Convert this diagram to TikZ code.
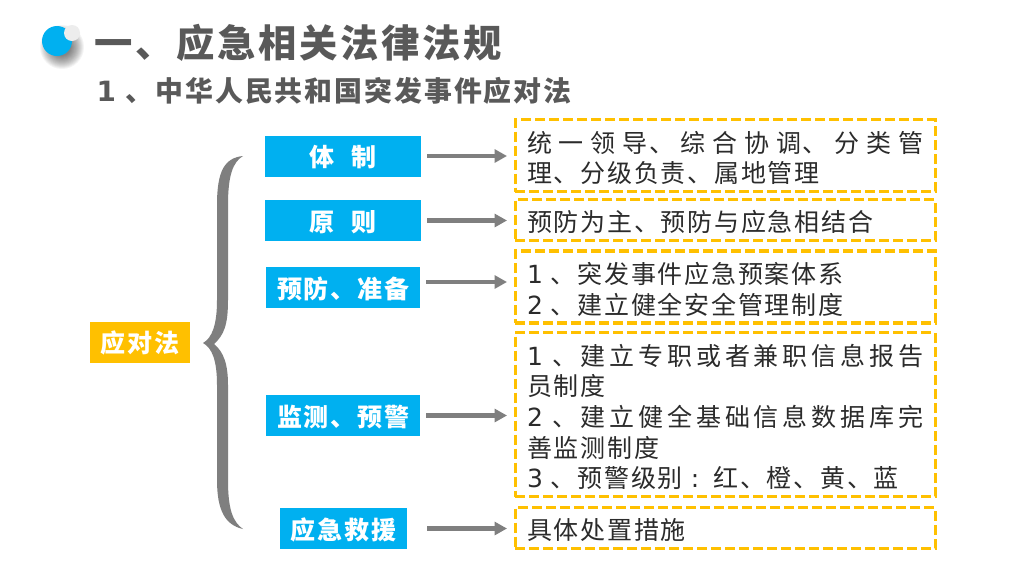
\documentclass[tikz,border=0pt]{standalone}
\usepackage{fontspec}
\setmainfont[LetterSpace=7]{Noto Sans CJK SC}
\newfontfamily\numfont{DejaVu Sans}
\usetikzlibrary{arrows.meta}
\definecolor{skyblue}{HTML}{00B0F0}
\definecolor{amber}{HTML}{FFC000}
\definecolor{arrowgray}{HTML}{7F7F7F}
\definecolor{titlegray}{HTML}{595959}
\definecolor{bodygray}{HTML}{2B2B2B}
\XeTeXlinebreaklocale "zh"
\XeTeXlinebreakskip=1.75pt plus 8pt
\tolerance=9999
\tikzset{
	labelbox/.style={fill=skyblue, text=white, inner sep=0pt, minimum height=41pt,%
		text height=22pt, text depth=1pt, font=\fontsize{25}{30}\selectfont\bfseries},
	rootbox/.style={labelbox, fill=amber, minimum width=100pt},
	notebox/.style={draw=amber, line width=3.2pt, dash pattern=on 10pt off 4pt, anchor=west,%
		inner xsep=12pt, inner ysep=0pt, text width=396pt, align=justify, text=bodygray,%
		font=\fontsize{25}{30.6}\selectfont, execute at begin node={\rule{0pt}{26pt}}},
	pointer/.style={draw=arrowgray, line width=4.5pt, shorten <=6pt, shorten >=6.5pt,%
		-{Triangle[length=12.5pt, width=13pt]}}
}

\begin{document}
\begin{tikzpicture} [x=1pt, y=-1pt]

		\useasboundingbox [fill=white] (0,0) rectangle (1024,576);

		% soft shadow under the bullet
		\foreach \r in {22,21,...,9}
			\fill [black, opacity=.045] (62,47) circle (\r pt);

		\fill [skyblue] (57,41) circle (15pt);

		\fill [black!7] (72,33) circle (8pt);

		\node [anchor=west, text=titlegray, font=\fontsize{38.3}{40}\selectfont\bfseries] (title) at (91,43)%
		{一、应急相关法律法规};

		\node [anchor=west, text=titlegray, font=\fontsize{27.9}{30}\selectfont\bfseries] (subtitle) at (93,91)%
		{{\numfont 1 }、中华人民共和国突发事件应对法};

		\node [rootbox] (root) at (140,342) {应对法};

		% the big brace
		\fill [arrowgray] (243,156) .. controls (225,158) and (217,170) .. (217,205)%
		-- (217,300) .. controls (217,325) and (212,338) .. (203,343)%
		.. controls (212,348) and (217,360) .. (217,385)%
		-- (217,480) .. controls (217,510) and (225,525) .. (243,529)%
		.. controls (233,522) and (228,510) .. (228,480)%
		-- (228,385) .. controls (228,365) and (224,352) .. (214,344)%
		.. controls (224,335) and (228,325) .. (228,300)%
		-- (228,205) .. controls (228,175) and (233,162) .. (243,156);

		\node [labelbox, minimum width=156pt] (system) at (343,156) {体\hspace{.7em}制};

		\node [labelbox, minimum width=156pt] (principle) at (343,220.5) {原\hspace{.7em}则};

		\node [labelbox, minimum width=154pt] (prevent) at (343,287.5) {预防、准备};

		\node [labelbox, minimum width=154pt] (monitor) at (343,415.5) {监测、预警};

		\node [labelbox, minimum width=127pt] (rescue) at (343.5,528.5) {应急救援};

		\node [notebox, minimum height=72pt] (systemnote) at (513.5,155.5)%
		{统一领导、综合协调、分类管理、分级负责、属地管理};

		\node [notebox, minimum height=41pt] (principlenote) at (513.5,220)%
		{预防为主、预防与应急相结合};

		\node [notebox, minimum height=72pt] (preventnote) at (513.5,287)%
		{{\numfont 1 }、突发事件应急预案体系\\ {\numfont 2 }、建立健全安全管理制度};

		\node [notebox, minimum height=164pt] (monitornote) at (513.5,414.5)%
		{{\numfont 1 }、建立专职或者兼职信息报告\linebreak 员制度\\%
		{\numfont 2 }、建立健全基础信息数据库完\linebreak 善监测制度\\%
		{\numfont 3 }、预警级别{\numfont\ :\ }\hspace{6pt}红、橙、黄、蓝};

		\node [notebox, minimum height=41pt] (rescuenote) at (513.5,528)%
		{具体处置措施};

		\draw [pointer] (system.east) -- (system.east -| systemnote.west);

		\draw [pointer] (principle.east) -- (principle.east -| principlenote.west);

		\draw [pointer] ([yshift=5.5pt]prevent.east) -- ([yshift=5.5pt]prevent.east -| preventnote.west);

		\draw [pointer] (monitor.east) -- (monitor.east -| monitornote.west);

		\draw [pointer] (rescue.east) ++(14pt,0) -- (rescue.east -| rescuenote.west);
	\end{tikzpicture}
\end{document}
